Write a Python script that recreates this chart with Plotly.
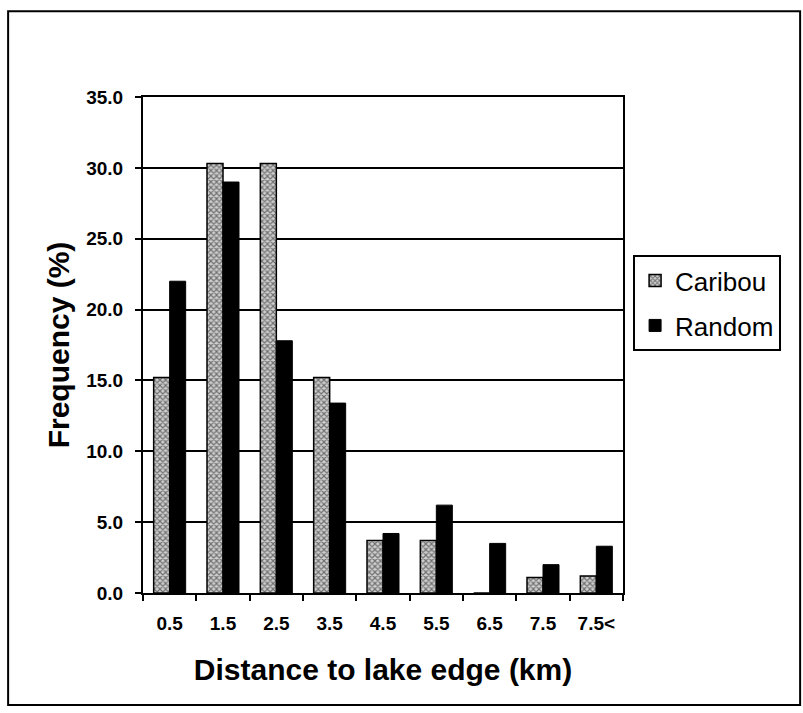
import plotly.graph_objects as go

categories = ["0.5", "1.5", "2.5", "3.5", "4.5", "5.5", "6.5", "7.5", "7.5<"]
caribou = [15.2, 30.3, 30.3, 15.2, 3.7, 3.7, 0.0, 1.1, 1.2]
random_pts = [22.0, 29.0, 17.8, 13.4, 4.2, 6.2, 3.5, 2.0, 3.3]
y_ticks = [0, 5, 10, 15, 20, 25, 30, 35]

FONT = "Liberation Sans, Arial, sans-serif"

fig = go.Figure()
fig.add_trace(go.Bar(
    x=categories, y=caribou, name="Caribou", legendgroup="c",
    marker=dict(
        color="white",
        line=dict(color="black", width=1.5),
        pattern=dict(shape="x", fgcolor="#111111", bgcolor="#cfcfcf", size=4, solidity=0.5),
    ),
))
fig.add_trace(go.Bar(
    x=categories, y=random_pts, name="Random", legendgroup="r",
    marker=dict(color="black", line=dict(color="black", width=1)),
))

fig.update_layout(
    width=803, height=713,
    margin=dict(l=143, r=180, t=97, b=120),
    paper_bgcolor="white", plot_bgcolor="white",
    barmode="group", bargap=0.4, bargroupgap=0.0,
    font=dict(family=FONT, color="black"),
    showlegend=True,
    legend=dict(
        x=1.021, y=0.681, xanchor="left", yanchor="top",
        bordercolor="black", borderwidth=2,
        font=dict(size=26, family=FONT, color="black"),
        tracegroupgap=8, itemwidth=30,
    ),
    shapes=[dict(
        type="rect", xref="paper", yref="paper",
        x0=-0.281, x1=1.369, y0=-0.226, y1=1.173,
        line=dict(color="black", width=2), layer="below",
    )],
)

fig.update_xaxes(
    type="category",
    showline=True, linecolor="black", linewidth=2, mirror=True,
    ticks="outside", tickson="boundaries", ticklen=6, tickcolor="black", tickwidth=2,
    ticklabelstandoff=12,
    tickfont=dict(size=19, family=FONT, color="black", weight="bold"),
    title=dict(text="Distance to lake edge (km)", standoff=26,
               font=dict(size=30, family=FONT, color="black", weight="bold")),
    showgrid=False,
)
fig.update_yaxes(
    range=[0, 35], tickvals=y_ticks, tickformat=".1f",
    showline=True, linecolor="black", linewidth=2, mirror=True,
    ticks="outside", ticklen=6, tickcolor="black", tickwidth=2,
    ticklabelstandoff=8,
    showgrid=True, gridcolor="black", gridwidth=1.5,
    tickfont=dict(size=19, family=FONT, color="black", weight="bold"),
    title=dict(text="Frequency (%)", standoff=8,
               font=dict(size=30, family=FONT, color="black", weight="bold")),
    zeroline=False,
)

fig.write_html("out.html")
